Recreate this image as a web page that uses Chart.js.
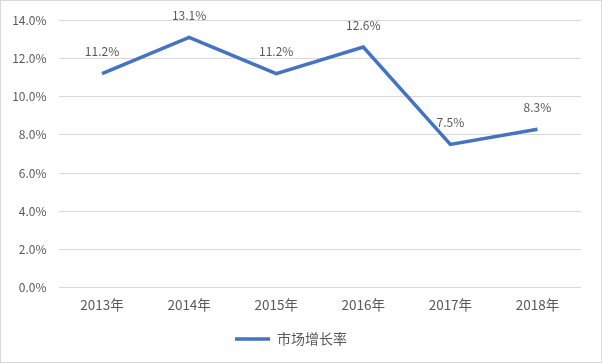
<!DOCTYPE html>
<html>
<head>
<meta charset="utf-8">
<script src="https://cdn.jsdelivr.net/npm/chart.js@4"></script>
<style>
  body { margin: 0; background: #fff; }
  #wrap { width: 600px; height: 361px; border: 1px solid #d9d9d9; }
</style>
</head>
<body>
<div id="wrap"><canvas id="growthChart" width="600" height="361"></canvas></div>
<script>
// chart data
const years = ['2013年', '2014年', '2015年', '2016年', '2017年', '2018年'];
const growthRate = [11.2, 13.1, 11.2, 12.6, 7.5, 8.3];
const seriesName = '市场增长率';

const fontFamily = '"Noto Sans CJK SC", "Noto Sans", sans-serif';

// simple value labels above each point
const pointLabels = {
    id: 'pointLabels',
    afterDatasetsDraw(chart) {
        const ctx = chart.ctx;
        const meta = chart.getDatasetMeta(0);
        ctx.save();
        ctx.font = '12px ' + fontFamily;
        ctx.fillStyle = '#595959';
        ctx.textAlign = 'center';
        ctx.textBaseline = 'middle';
        meta.data.forEach((pt, i) => {
            ctx.fillText(growthRate[i].toFixed(1) + '%', pt.x, pt.y - 22);
        });
        ctx.restore();
    }
};

const ctx = document.getElementById('growthChart').getContext('2d');
new Chart(ctx, {
    type: 'line',
    data: {
        labels: years,
        datasets: [{
            label: seriesName,
            data: growthRate,
            borderColor: '#4472C4',
            backgroundColor: '#4472C4',
            borderWidth: 3.5,
            pointRadius: 0,
            tension: 0,
            fill: false
        }]
    },
    options: {
        responsive: false,
        animation: false,
        layout: { padding: { top: 12, right: 20, left: 0, bottom: 6 } },
        plugins: {
            legend: {
                position: 'bottom',
                labels: {
                    usePointStyle: true,
                    pointStyle: 'line',
                    pointStyleWidth: 35,
                    color: '#595959',
                    font: { family: fontFamily, size: 14 },
                    padding: 10
                }
            },
            tooltip: { enabled: false }
        },
        scales: {
            x: {
                offset: true,
                grid: { display: false },
                border: { display: false },
                afterFit(scale) { scale.height += 8; },
                ticks: {
                    color: '#595959',
                    font: { family: fontFamily, size: 13.5 },
                    padding: 1
                }
            },
            y: {
                min: 0,
                max: 14,
                grid: { color: '#d9d9d9', lineWidth: 1, drawTicks: false },
                border: { display: false },
                afterFit(scale) { scale.width = 57.5; },
                ticks: {
                    stepSize: 2,
                    color: '#595959',
                    font: { family: fontFamily, size: 12 },
                    padding: 12,
                    callback: v => v.toFixed(1) + '%'
                }
            }
        }
    },
    plugins: [pointLabels]
});
</script>
</body>
</html>
